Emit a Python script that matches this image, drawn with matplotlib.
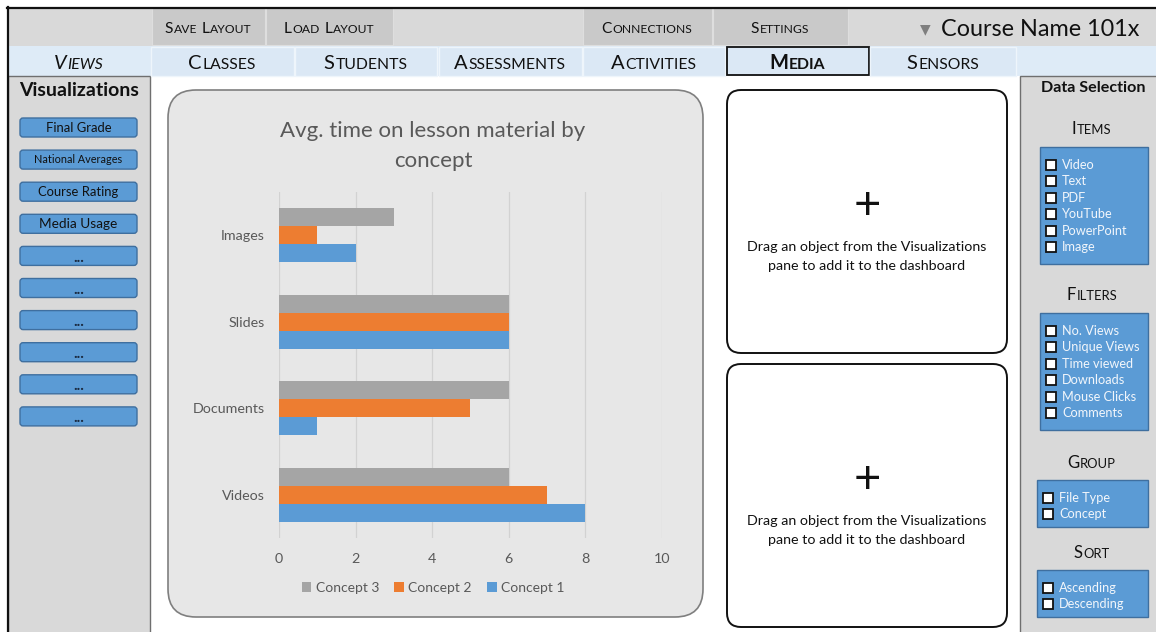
import matplotlib
matplotlib.use('Agg')
import matplotlib.pyplot as plt
from matplotlib.patches import Rectangle, FancyBboxPatch
from matplotlib.font_manager import FontProperties
import numpy as np

FONT = 'Lato'
plt.rcParams['font.family'] = [FONT, 'DejaVu Sans']

# chart data
categories = ['Videos', 'Documents', 'Slides', 'Images']
concept1 = [8, 1, 6, 2]
concept2 = [7, 5, 6, 1]
concept3 = [6, 6, 6, 3]
title_lines = ['Avg. time on lesson material by', 'concept']

# dashboard texts
toolbar_buttons = ['Save Layout', 'Load Layout', 'Connections', 'Settings']
tabs = ['Classes', 'Students', 'Assessments', 'Activities', 'Media', 'Sensors']
viz_buttons = ['Final Grade', 'National Averages', 'Course Rating', 'Media Usage',
               '...', '...', '...', '...', '...', '...']
items = ['Video', 'Text', 'PDF', 'YouTube', 'PowerPoint', 'Image']
filters = ['No. Views', 'Unique Views', 'Time viewed', 'Downloads', 'Mouse Clicks', 'Comments']
group = ['File Type', 'Concept']
sort = ['Ascending', 'Descending']
drop_lines = ['Drag an object from the Visualizations', 'pane to add it to the dashboard']

W, H = 1156, 632
fig = plt.figure(figsize=(W / 100, H / 100), dpi=100)
bg = fig.add_axes([0, 0, 1, 1])
bg.set_xlim(0, W)
bg.set_ylim(H, 0)
bg.axis('off')
renderer = fig.canvas.get_renderer()


def box(x0, y0, x1, y1, fc, ec='none', lw=1.0, r=0, z=1):
    if r:
        p = FancyBboxPatch((x0, y0), x1 - x0, y1 - y0,
                           boxstyle=f'round,pad=0,rounding_size={r}',
                           fc=fc, ec=ec, lw=lw, zorder=z)
    else:
        p = Rectangle((x0, y0), x1 - x0, y1 - y0, fc=fc, ec=ec, lw=lw, zorder=z)
    bg.add_patch(p)


def text_width(s, size, weight='normal', style='normal'):
    fp = FontProperties(family=FONT, size=size, weight=weight, style=style)
    w, h, d = renderer.get_text_width_height_descent(s, fp, ismath=False)
    return w


def smallcaps(x, y, s, size, color='black', weight='normal', style='normal', ratio=0.78):
    '''
    Draw s centred on x with its baseline at y, lower case letters as small capitals.
    '''
    small = size * ratio
    space = size * 100 / 72 * 0.24
    runs = []
    for k, word in enumerate(s.split(' ')):
        if k:
            runs.append((None, space))
        cur, cur_big = '', None
        for ch in word:
            big = not ch.islower()
            if cur and big != cur_big:
                runs.append((cur, cur_big))
                cur = ''
            cur += ch.upper()
            cur_big = big
        if cur:
            runs.append((cur, cur_big))
    pieces = []
    total = 0
    for t, b in runs:
        if t is None:
            total += b
            continue
        sz = size if b else small
        w = text_width(t, sz, weight, style)
        pieces.append((total, t, sz))
        total += w + 0.8
    x0 = x - total / 2
    for dx, t, sz in pieces:
        bg.text(x0 + dx, y, t, fontsize=sz, color=color, weight=weight, style=style,
                ha='left', va='baseline', zorder=6)


# outer frame and top toolbar
box(0, 0, W, H, '#ffffff', z=0)
box(7, 8, W, 46, '#d9d9d9', z=1)
tb_x = [(152, 265), (266, 393), (583, 712), (713, 848)]
for (x0, x1), label in zip(tb_x, toolbar_buttons):
    box(x0, 8, x1, 45, '#c9c9c9', ec='#dedede', lw=0.8, z=2)
    smallcaps((x0 + x1) / 2, 33, label, 11.2, color='#111111')
bg.text(925, 29, '▼', fontsize=10, color='#7f7f7f', ha='center', va='center',
        family=['DejaVu Sans'], zorder=6)
bg.text(1040, 29, 'Course Name 101x', fontsize=16.8, color='#111111', ha='center',
        va='center', zorder=6)

# tab row
box(7, 46, W, 76, '#deebf7', z=1)
tab_x = [(151, 294), (295, 437), (439, 582), (583, 725), (727, 869), (870, 1016)]
for (x0, x1), label in zip(tab_x, tabs):
    if label == 'Media':
        box(x0, 47, x1, 75, '#dbe8f5', ec='#111111', lw=1.3, z=2)
        smallcaps((x0 + x1) / 2, 69, label, 14.5, color='#111111', weight='bold')
    else:
        box(x0, 47, x1, 76, '#dbe8f5', ec='#eef5fb', lw=1.0, z=2)
        smallcaps((x0 + x1) / 2, 69, label, 14.5, color='#111111')
smallcaps(79, 69, 'Views', 14.5, color='#111111', style='italic')
bg.plot([7, W], [7.5, 7.5], color='#111111', lw=1.6, zorder=7)
bg.plot([7.5, 7.5], [7, H], color='#111111', lw=1.6, zorder=7)

# left visualization pane
box(8, 76, 150, H + 2, '#d9d9d9', ec='#6f6f6f', lw=1.0, z=1)
bg.text(79, 90, 'Visualizations', fontsize=14, weight='bold', color='#111111',
        ha='center', va='center', zorder=6)
for i, label in enumerate(viz_buttons):
    yc = 127.5 + i * 32.1
    box(20, yc - 9.5, 137, yc + 9.5, '#5b9bd5', ec='#3f6f9f', lw=1.0, r=3, z=2)
    if label == '...':
        bg.text(78.5, yc + 2, '...', fontsize=11, weight='bold', color='#1a2a40',
                ha='center', va='center', zorder=6)
    else:
        fs = 7.8 if len(label) > 14 else 9.4 if label != 'Media Usage' else 9.8
        bg.text(78.5, yc, label, fontsize=fs, color='#111111', ha='center',
                va='center', zorder=6)

# right data selection pane
box(1020, 76, W + 2, H + 2, '#d9d9d9', ec='#6f6f6f', lw=1.0, z=1)
bg.text(1093, 88, 'Data Selection', fontsize=11.6, weight='bold', color='#111111',
        ha='center', va='center', zorder=6)


def checklist(title, entries, ty, y0, y1, x0):
    smallcaps(1092, ty + 5, title, 12, color='#111111')
    box(x0, y0, 1148, y1, '#5b9bd5', ec='#3f6f9f', lw=1.0, z=2)
    for k, e in enumerate(entries):
        yy = y0 + 18 + k * 16.4
        box(x0 + 6, yy - 5, x0 + 16, yy + 5, '#ffffff', ec='#111111', lw=1.3, z=3)
        bg.text(x0 + 22, yy, e, fontsize=9.2, color='#f2f6fb', ha='left',
                va='center', zorder=6)


checklist('Items', items, 129, 147, 264, 1040)
checklist('Filters', filters, 295, 313, 430, 1040)
checklist('Group', group, 463, 480, 527, 1037)
checklist('Sort', sort, 553, 570, 617, 1037)

# drop targets
for y0, y1 in [(90, 353), (364, 627)]:
    box(727, y0, 1007, y1, '#ffffff', ec='#111111', lw=1.4, r=14, z=2)
    bg.text(867, y0 + 116, '+', fontsize=34, color='#111111', ha='center',
            va='center', zorder=6)
    for k, line in enumerate(drop_lines):
        bg.text(867, y0 + 157 + k * 19, line, fontsize=10.3, color='#111111',
                ha='center', va='center', zorder=6)

# chart panel
box(168, 90, 703, 617, '#e7e7e7', ec='#7f7f7f', lw=1.2, r=28, z=2)
for k, line in enumerate(title_lines):
    bg.text(433, 131 + k * 30, line, fontsize=16, color='#595959', ha='center',
            va='center', zorder=6)

ax = fig.add_axes([279 / W, 1 - 538 / H, (661.8 - 279) / W, (538 - 192) / H], zorder=5)
ax.set_facecolor('none')
y = np.arange(len(categories))
h = 0.21
b3 = ax.barh(y + h, concept3, h, color='#a5a5a5', label='Concept 3')
b2 = ax.barh(y, concept2, h, color='#ed7d31', label='Concept 2')
b1 = ax.barh(y - h, concept1, h, color='#5b9bd5', label='Concept 1')
ax.set_xlim(0, 10)
ax.set_ylim(-0.5, 3.5)
ax.set_xticks(range(0, 11, 2))
ax.set_yticks(y, categories)
ax.grid(axis='x', color='#d2d2d2', lw=0.9)
ax.set_axisbelow(True)
for s in ax.spines.values():
    s.set_visible(False)
ax.tick_params(length=0, labelsize=10.3, labelcolor='#595959')
ax.tick_params(axis='y', pad=10)
ax.tick_params(axis='x', pad=11)

fig.legend(handles=[b3, b2, b1], loc='center', bbox_to_anchor=(433 / W, 1 - 588 / H),
           ncol=3, frameon=False, fontsize=10, labelcolor='#595959',
           handlelength=0.7, handleheight=0.7, handletextpad=0.3, columnspacing=1.1)

fig.savefig('out.png', dpi=100)
